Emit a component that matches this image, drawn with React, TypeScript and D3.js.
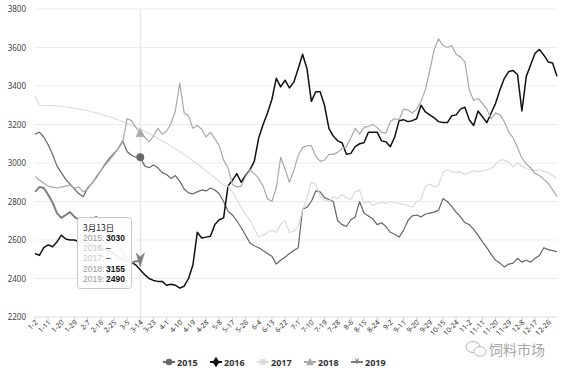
import React from 'react';
import * as d3 from 'd3';

// ---------- data ----------
const tickLabels = [
  '1-2', '1-11', '1-20', '1-29', '2-7', '2-16', '2-25', '3-5', '3-14', '3-23',
  '4-1', '4-10', '4-19', '4-28', '5-8', '5-17', '5-26', '6-4', '6-13', '6-22',
  '7-1', '7-10', '7-19', '7-28', '8-6', '8-15', '8-24', '9-2', '9-11', '9-20',
  '9-29', '10-15', '10-24', '11-2', '11-11', '11-20', '11-29', '12-8', '12-17', '12-26',
];
const yTicks = [2200, 2400, 2600, 2800, 3000, 3200, 3400, 3600, 3800];
const years = ['2015', '2016', '2017', '2018', '2019'];

// one value every 3 category slots
const s2015 = [
  3150, 3160, 3135, 3095, 3045, 2985, 2950, 2915, 2890, 2865,
  2840, 2825, 2870, 2895, 2925, 2960, 2995, 3025, 3050, 3075,
  3115, 3060, 3040, 3030, 3030, 2985, 2975, 2990, 2975, 2950,
  2940, 2920, 2935, 2905, 2865, 2845, 2840, 2850, 2860, 2855,
  2870, 2860, 2840, 2800, 2750, 2730, 2700, 2665, 2625, 2585,
  2570, 2560, 2545, 2530, 2515, 2475, 2495, 2510, 2530, 2545,
  2560, 2760, 2770, 2800, 2855, 2850, 2820, 2810, 2800, 2700,
  2680, 2670, 2705, 2720, 2800, 2740, 2725, 2710, 2680, 2690,
  2670, 2640, 2630, 2615, 2650, 2700, 2725, 2730, 2720, 2735,
  2740, 2745, 2755, 2815, 2800, 2775, 2745, 2720, 2690, 2680,
  2655, 2625, 2590, 2560, 2525, 2495, 2480, 2460, 2475, 2480,
  2505, 2485, 2495, 2485, 2505, 2520, 2560, 2550, 2545, 2540,
];
const s2016 = [
  2530, 2520, 2560, 2575, 2565, 2590, 2625, 2605, 2600, 2600,
  2590, 2585, 2580, 2575, 2570, 2560, 2550, 2540, 2530, 2510,
  2500, 2490, 2485, 2470, null, 2420, 2400, 2390, 2385, 2385,
  2365, 2370, 2365, 2350, 2360, 2400, 2470, 2640, 2610, 2615,
  2620, 2680, 2705, 2715, 2880, 2910, 2945, 2900, 2935, 2965,
  3010, 3130, 3200, 3260, 3330, 3440, 3395, 3430, 3390, 3420,
  3490, 3565, 3490, 3320, 3370, 3370, 3300, 3180, 3140, 3115,
  3105, 3045, 3050, 3085, 3100, 3105, 3160, 3160, 3160, 3115,
  3110, 3085, 3135, 3220, 3225, 3215, 3220, 3230, 3300, 3265,
  3250, 3235, 3215, 3210, 3210, 3245, 3250, 3280, 3290, 3225,
  3195, 3270, 3240, 3210, 3260, 3310, 3380, 3440, 3475, 3480,
  3460, 3270, 3450, 3510, 3570, 3590, 3560, 3525, 3520, 3450,
];
const s2017 = [
  3350, 3300, null, null, null, null, null, null, null, null,
  null, null, null, null, null, null, null, null, null, null,
  null, null, null, null, null, null, null, null, null, null,
  null, null, null, null, null, null, null, null, null, null,
  null, null, null, 2885, 2880, 2850, 2810, 2770, 2735, 2705,
  2660, 2615, 2625, 2640, 2650, 2640, 2680, 2700, 2640, 2645,
  2670, 2755, 2820, 2900, 2890, 2830, 2805, 2800, 2825, 2815,
  2835, 2820, 2810, 2850, 2860, 2790, 2800, 2780, 2790, 2795,
  2790, 2800, 2795, 2790, 2785, 2780, 2770, 2800, 2810, 2880,
  2890, 2875, 2885, 2950, 2965, 2955, 2950, 2955, 2940, 2950,
  2960, 2955, 2960, 2965, 2970, 2995, 3015, 3015, 3005, 2980,
  3000, 2985, 2970, 2965, 2960, 2965, 2955, 2950, 2935, 2920,
];
const s2018 = [
  2930, 2910, 2895, 2880, 2875, 2870, 2875, 2880, 2885, 2870,
  2875, 2850, 2865, 2895, 2930, 2960, 2990, 3015, 3045, 3075,
  3110, 3230, 3220, 3185, 3155, 3135, 3110, 3140, 3180, 3150,
  3165, 3205, 3270, 3415, 3260, 3245, 3180, 3195, 3175, 3135,
  3160, 3125, 3090, 3015, 2975, 2890, 2875, 2880, 2930, 2965,
  2945, 2920, 2880, 2815, 2800, 2870, 3030, 2970, 2900, 2960,
  3040, 3080, 3090, 3090, 3035, 3010, 3015, 3045, 3045, 3055,
  3075, 3085, 3130, 3180, 3150, 3185, 3190, 3200, 3185, 3160,
  3155, 3215, 3230, 3225, 3280, 3275, 3260, 3280, 3320, 3380,
  3480, 3590, 3645, 3610, 3600, 3610, 3565, 3550, 3525, 3380,
  3325, 3335, 3310, 3280, 3230, 3260, 3250, 3215, 3160, 3130,
  3080, 3025, 2995, 2975, 2945, 2935, 2915, 2895, 2860, 2825,
];
const s2019 = [
  2850, 2875, 2870, 2835, 2795, 2740, 2715, 2730, 2745, 2720,
  2705, 2700, 2705, 2710, 2720, 2700, 2660, 2630, 2600, 2570,
  2540, 2510, 2480, 2490, 2490,
];
const seriesValues = [s2015, s2016, s2017, s2018, s2019];

const tooltipDate = '3月13日';
const tooltipPoint = 24;

// ---------- styles ----------
const colors = ['#666666', '#111111', '#dadada', '#a9a9a9', '#7d7d7d'];
const widths = [1.2, 1.5, 1.2, 1.2, 2];
const symbols = ['circle', 'diamond', 'rect', 'triangle', 'arrow'];

const STEP = 3;
const LAST = 357;
const FONT = "'Noto Sans', 'Liberation Sans', Arial, sans-serif";
const TIPFONT = "'Liberation Sans', Arial, sans-serif";
const CJK = "'Noto Sans CJK SC', 'Noto Sans', sans-serif";

function symbolPath(kind: string, s: number): string {
  switch (kind) {
    case 'circle':
      return d3.symbol(d3.symbolCircle, s * s * 0.7)() as string;
    case 'diamond':
      return `M0,${-s * 0.75}L${s * 0.5},0L0,${s * 0.75}L${-s * 0.5},0Z`;
    case 'rect':
      return `M${-s * 0.4},${-s * 0.4}h${s * 0.8}v${s * 0.8}h${-s * 0.8}Z`;
    case 'triangle':
      return `M0,${-s * 0.6}L${s * 0.55},${s * 0.45}L${-s * 0.55},${s * 0.45}Z`;
    case 'arrow':
      return `M${-s * 0.3},${-s * 0.6}L0,${-s * 0.3}L${s * 0.3},${-s * 0.6}L0,${s * 0.4}Z`;
    default:
      return '';
  }
}

export default function App() {
  const x = d3.scaleLinear().domain([0, LAST]).range([35, 557]);
  const y = d3.scaleLinear().domain([2200, 3800]).range([317, 9]);

  const buildPath = (vals: (number | null)[]) => {
    const p = d3.path();
    let prev: { j: number; v: number } | null = null;
    vals.forEach((v, j) => {
      if (v == null) return;
      const px = x(j * STEP);
      const py = y(v);
      if (!prev) {
        p.moveTo(px, py);
      } else if (j - prev.j > 2) {
        const x0 = x(prev.j * STEP);
        const y0 = y(prev.v);
        p.quadraticCurveTo((x0 + px) / 2, y0, px, py);
      } else {
        p.lineTo(px, py);
      }
      prev = { j, v };
    });
    return p.toString();
  };

  const xTickIdx = tickLabels.map((_, k) => k * 9);
  const cx = x(tooltipPoint * STEP);

  const legendStart = 169;
  const legendGap = 47;

  return (
    <div style={{ position: 'fixed', left: 0, top: 0 }}>
      <svg width={571} height={372} style={{ display: 'block', background: '#fff' }}>
        {/* grid */}
        {yTicks.map((t) => (
          <line key={t} x1={35} x2={557} y1={y(t)} y2={y(t)} stroke={t === 2200 ? '#dcdcdc' : '#ececec'} strokeWidth={1} />
        ))}
        {yTicks.map((t) => (
          <text key={'yl' + t} x={26} y={y(t) + 3} textAnchor="end" fontSize={8} fill="#444" fontFamily={FONT}>
            {t}
          </text>
        ))}
        {/* x ticks */}
        {xTickIdx.map((i, k) => (
          <g key={'xt' + k}>
            <line x1={x(i)} x2={x(i)} y1={317} y2={321} stroke="#d0d0d0" />
            <text
              transform={`translate(${x(i) + 3},${323}) rotate(-45)`}
              textAnchor="end"
              fontSize={7}
              fill="#333"
              fontFamily={FONT}
            >
              {tickLabels[k]}
            </text>
          </g>
        ))}
        {/* crosshair */}
        <line x1={cx} x2={cx} y1={9} y2={317} stroke="#dedede" strokeWidth={1} />
        {/* series */}
        {seriesValues.map((vals, s) => (
          <path
            key={'s' + s}
            d={buildPath(vals)}
            fill="none"
            stroke={colors[s]}
            strokeWidth={widths[s]}
            strokeLinejoin="round"
          />
        ))}
        {/* markers at pointer */}
        {seriesValues.map((vals, s) => {
          const v = vals[tooltipPoint];
          if (v == null) return null;
          return (
            <path
              key={'m' + s}
              d={symbolPath(symbols[s], s === 4 ? 14 : 8)}
              transform={`translate(${cx},${y(v)})`}
              fill={colors[s]}
              stroke={colors[s]}
              strokeWidth={0.5}
            />
          );
        })}
        {/* tooltip */}
        <g>
          <rect x={77.5} y={217.5} width={54} height={71} rx={3} fill="#fff" fillOpacity={0.93} stroke="#c8c8c8" />
          <text x={83} y={230.5} fontSize={8.5} fill="#222" fontFamily={CJK}>
            {tooltipDate}
          </text>
          {years.map((yr, s) => {
            const v = seriesValues[s][tooltipPoint];
            const ty = 241 + s * 10.2;
            return (
              <g key={'tt' + yr}>
                <text x={83} y={ty} fontSize={8.5} fontFamily={TIPFONT} fill={v == null ? '#c9c9c9' : '#9a9a9a'}>
                  {yr}:
                </text>
                <text x={106} y={ty} fontSize={8.5} fontFamily={TIPFONT} fill="#111" fontWeight={v == null ? 'normal' : 'bold'}>
                  {v == null ? '–' : v}
                </text>
              </g>
            );
          })}
        </g>
        {/* legend */}
        {years.map((yr, s) => {
          const lx = legendStart + s * legendGap;
          return (
            <g key={'lg' + yr}>
              <line x1={lx - 6} x2={lx + 6} y1={362} y2={362} stroke={colors[s]} strokeWidth={2} />
              <path d={symbolPath(symbols[s], 7)} transform={`translate(${lx},362)`} fill={colors[s]} />
              <text x={lx + 8} y={365.5} fontSize={9} fontWeight="bold" fill="#333" fontFamily={FONT}>
                {yr}
              </text>
            </g>
          );
        })}
        {/* watermark */}
        <g stroke="#b5b5b5" fill="none" strokeWidth={1}>
          <ellipse cx={473} cy={347} rx={7} ry={5.5} />
          <ellipse cx={480} cy={351.5} rx={6} ry={4.8} fill="#fff" />
        </g>
        <text x={489} y={355} fontSize={14} fill="#a5a5a5" fontFamily={CJK}>
          饲料市场
        </text>
      </svg>
    </div>
  );
}
